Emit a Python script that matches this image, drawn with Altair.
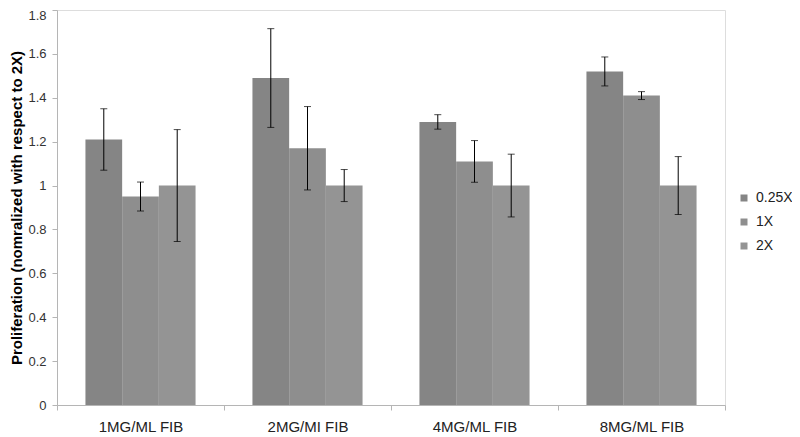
import altair as alt
import pandas as pd

groups = ["1MG/ML FIB", "2MG/MI FIB", "4MG/ML FIB", "8MG/ML FIB"]
series = ["0.25X", "1X", "2X"]
means = {
    "0.25X": [1.21, 1.49, 1.29, 1.52],
    "1X": [0.95, 1.17, 1.11, 1.41],
    "2X": [1.00, 1.00, 1.00, 1.00],
}
errors = {
    "0.25X": [0.14, 0.225, 0.033, 0.066],
    "1X": [0.066, 0.19, 0.095, 0.018],
    "2X": [0.255, 0.073, 0.143, 0.132],
}
colors = ["#858585", "#8e8e8e", "#949494"]
y_ticks = [0, 0.2, 0.4, 0.6, 0.8, 1.0, 1.2, 1.4, 1.6, 1.8]

rows = []
for s in series:
    for i, g in enumerate(groups):
        m = means[s][i]
        e = errors[s][i]
        rows.append({"group": g, "series": s, "value": m, "lo": m - e, "hi": m + e})
df = pd.DataFrame(rows)

font = "Liberation Sans"

x_scale = alt.Scale(paddingInner=0, paddingOuter=0)
x_enc = alt.X(
    "group:N",
    sort=groups,
    scale=x_scale,
    axis=alt.Axis(
        title=None,
        labelAngle=0,
        labelFontSize=15,
        labelFont=font,
        labelColor="#222222",
        labelPadding=9,
        tickBand="extent",
        tickSize=5,
        tickColor="#b5b5b5",
        domainColor="#b5b5b5",
        grid=False,
    ),
)
xo = alt.XOffset("series:N", sort=series, scale=alt.Scale(paddingInner=0, paddingOuter=0.775))

y_scale = alt.Scale(domain=[0, 1.8], nice=False)

bars = alt.Chart(df).mark_bar().encode(
    x=x_enc,
    xOffset=xo,
    y=alt.Y(
        "value:Q",
        scale=y_scale,
        axis=alt.Axis(
            title="Proliferation (nomralized with respect to 2X)",
            titleFont=font,
            titleFontSize=15,
            titleFontWeight="bold",
            titleColor="#000000",
            titlePadding=3,
            values=y_ticks,
            format="~g",
            labelFont=font,
            labelFontSize=13,
            labelColor="#333333",
            labelPadding=6,
            labelOffset=alt.condition("datum.value == 1.8", alt.value(5), alt.value(0)),
            tickSize=5,
            tickColor="#b5b5b5",
            domainColor="#b5b5b5",
            grid=False,
        ),
    ),
    color=alt.Color(
        "series:N",
        sort=series,
        scale=alt.Scale(domain=series, range=colors),
        legend=alt.Legend(
            title=None,
            orient="none",
            legendX=680,
            legendY=181,
            padding=0,
            symbolType="square",
            symbolSize=49,
            symbolStrokeWidth=0,
            labelFont=font,
            labelFontSize=14,
            labelColor="#222222",
            labelOffset=5,
            rowPadding=10,
        ),
    ),
)

rules = alt.Chart(df).mark_rule(color="#000000", strokeWidth=1).encode(
    x=alt.X("group:N", sort=groups, scale=x_scale),
    xOffset=xo,
    y=alt.Y("lo:Q", scale=y_scale),
    y2="hi:Q",
)
caps_hi = alt.Chart(df).mark_tick(color="#000000", thickness=1, size=7, orient="horizontal").encode(
    x=alt.X("group:N", sort=groups, scale=x_scale),
    xOffset=xo,
    y=alt.Y("hi:Q", scale=y_scale),
)
caps_lo = alt.Chart(df).mark_tick(color="#000000", thickness=1, size=7, orient="horizontal").encode(
    x=alt.X("group:N", sort=groups, scale=x_scale),
    xOffset=xo,
    y=alt.Y("lo:Q", scale=y_scale),
)

chart = (
    alt.layer(bars, rules, caps_hi, caps_lo)
    .properties(
        width=668,
        height=395,
        autosize=alt.AutoSizeParams(type="none"),
        padding={"left": 49, "top": 2, "right": 67, "bottom": 32},
    )
    .configure_view(stroke=None)
    .configure(background="#ffffff")
)

chart.save("out.html", embed_options={"renderer": "svg", "actions": False})
